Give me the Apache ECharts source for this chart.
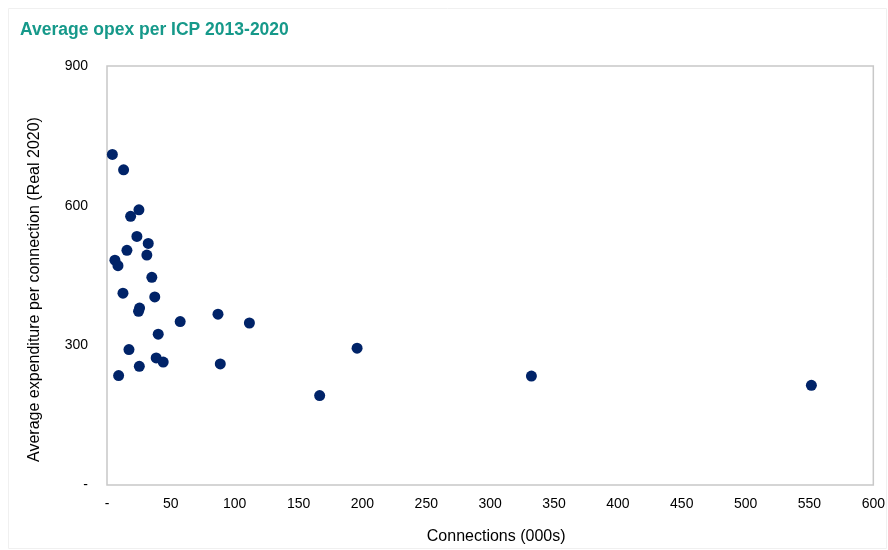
<!DOCTYPE html>
<html>
<head>
<meta charset="utf-8">
<script src="https://cdn.jsdelivr.net/npm/echarts@6/dist/echarts.min.js"></script>
<style>
html,body{margin:0;padding:0;background:#fff;}
#chart{width:888px;height:550px;}
</style>
</head>
<body>
<div id="chart"></div>
<script>
// Connections (000s)
var connections = [4.2, 13.0, 25.0, 18.5, 23.4, 32.3, 15.6, 31.2, 6.2, 8.6, 35.1, 12.5, 37.4, 25.5, 24.7, 57.3, 86.9, 111.5, 40.1, 17.2, 38.5, 44.0, 88.7, 25.3, 9.1, 195.8, 166.5, 332.3, 551.5];
// Average expenditure per connection (Real 2020)
var expenditure = [710, 677, 591, 577, 534, 519, 504, 494, 483, 471, 446, 412, 404, 380, 373, 351, 367, 348, 324, 291, 273, 264, 260, 255, 235, 294, 192, 234, 214];
var xTicks = {min: 0, max: 600, interval: 50};
var yTicks = {min: 0, max: 900, interval: 300};

var pts = connections.map(function (c, i) { return [c, expenditure[i]]; });
var fam = 'Liberation Sans, Arial, sans-serif';
var chart = echarts.init(document.getElementById('chart'), null, {renderer: 'canvas'});
chart.setOption({
  backgroundColor: '#ffffff',
  animation: false,
  title: {
    text: 'Average opex per ICP 2013-2020',
    left: 20, top: 21, padding: 0,
    textStyle: {color: '#16998a', fontSize: 17.5, fontWeight: 'bold', fontFamily: fam}
  },
  graphic: [{
    type: 'rect', shape: {x: 8.5, y: 8.5, width: 878, height: 540},
    style: {fill: 'none', stroke: '#f0f0f0', lineWidth: 1}, silent: true, z: -1
  }],
  grid: {left: 107, right: 8, top: 66, bottom: 63, show: true, borderColor: '#c8c8c8', borderWidth: 1.5, backgroundColor: 'transparent'},
  xAxis: {
    type: 'value', min: xTicks.min, max: xTicks.max, interval: xTicks.interval,
    name: 'Connections (000s)', nameLocation: 'middle', nameGap: 44,
    nameTextStyle: {fontSize: 16, color: '#000', fontFamily: fam, padding: [0, 0, 0, 12]},
    axisLine: {show: false}, axisTick: {show: false}, splitLine: {show: false},
    axisLabel: {fontSize: 14, color: '#000', fontFamily: fam, margin: 12,
      formatter: function (v) { return v === 0 ? '-' : String(v); }}
  },
  yAxis: {
    type: 'value', min: yTicks.min, max: yTicks.max, interval: yTicks.interval,
    name: 'Average expenditure per connection (Real 2020)', nameLocation: 'middle', nameGap: 64,
    nameTextStyle: {fontSize: 16, color: '#000', fontFamily: fam, padding: [0, 28, 0, 0]},
    axisLine: {show: false}, axisTick: {show: false}, splitLine: {show: false},
    axisLabel: {fontSize: 14, color: '#000', fontFamily: fam, margin: 19,
      formatter: function (v) { return v === 0 ? '-' : String(v); }}
  },
  series: [{
    type: 'scatter', data: pts, symbol: 'circle', symbolSize: 11,
    itemStyle: {color: '#002368', opacity: 1}
  }]
});
</script>
</body>
</html>
